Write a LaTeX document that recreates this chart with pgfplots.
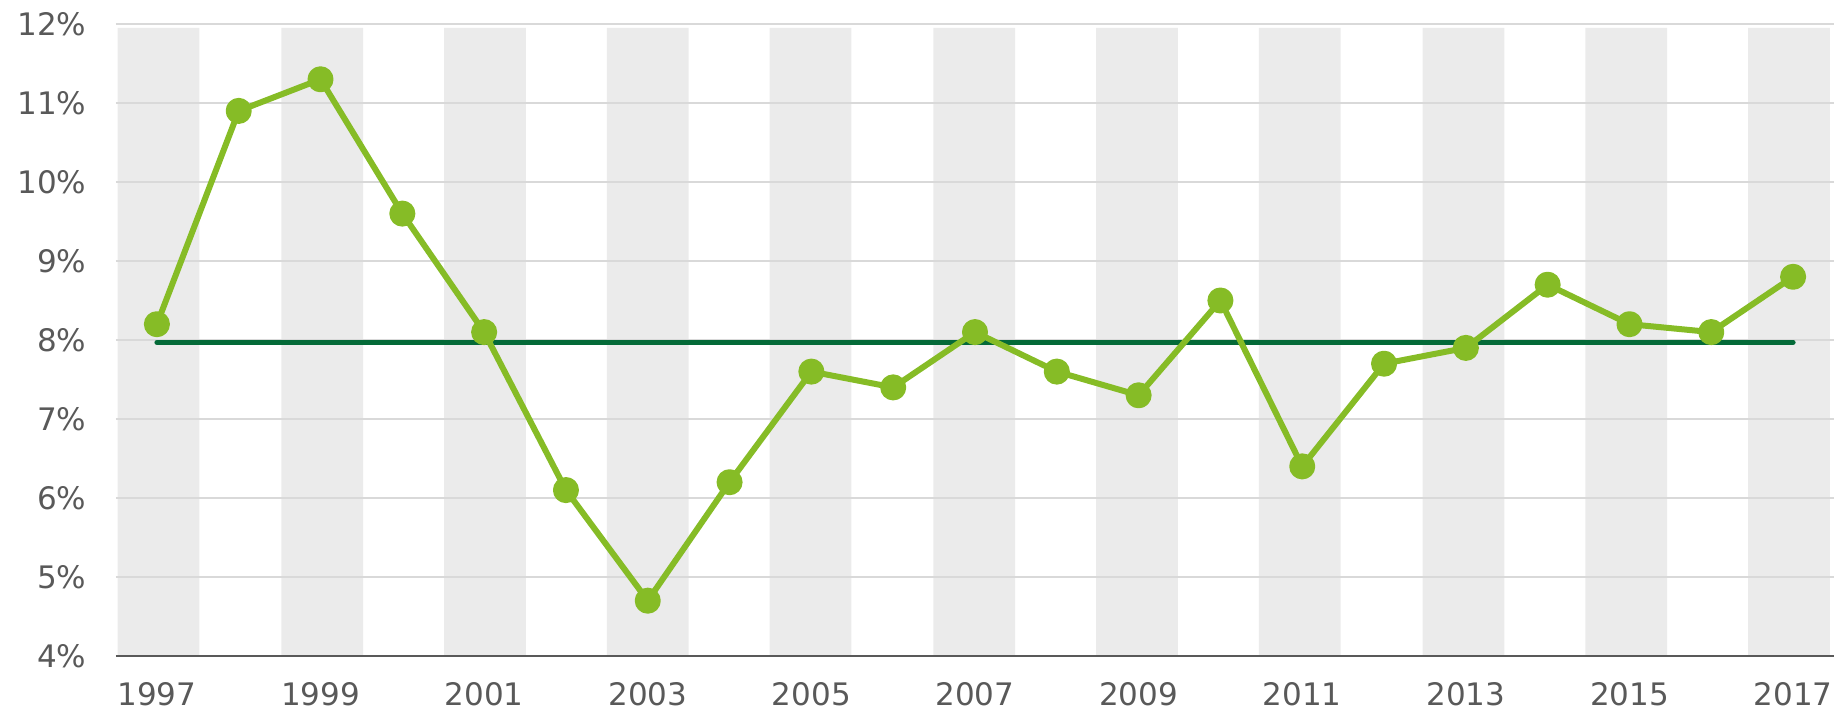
\documentclass[border=0pt]{standalone}
\usepackage{fontspec}
\setmainfont{DejaVu Sans}
\usepackage{pgfplots}
\pgfplotsset{compat=1.18}
\definecolor{lgreen}{RGB}{134,188,38}
\definecolor{dgreen}{RGB}{4,106,56}
\definecolor{bandgray}{RGB}{235,235,235}
\definecolor{gridgray}{RGB}{217,217,217}
\definecolor{txtgray}{RGB}{89,89,89}
\begin{document}
\begin{tikzpicture}
\begin{axis}[
  set layers,
  scale only axis, width=859pt, height=316pt,
  xmin=1996.5, xmax=2017.5, ymin=4, ymax=12,
  axis x line=bottom, axis y line=left,
  x axis line style={-, draw=txtgray, line width=0.8pt},
  y axis line style={draw=none},
  xtick={1997,1999,...,2017}, ytick={4,5,...,12},
  xticklabel style={/pgf/number format/1000 sep={}, yshift=-9.8pt},
  yticklabel={\pgfmathprintnumber{\tick}\%},
  yticklabel style={xshift=-11.3pt},
  major tick length=0pt,
  ymajorgrids, grid style={draw=gridgray, line width=1pt},
  tick label style={font=\fontsize{15.5}{18}\selectfont, text=txtgray},
  /pgf/number format/assume math mode=true,
]
\addplot[ybar, bar width=1, fill=bandgray, draw=none, on layer=axis background]
  coordinates {(1997.02,11.95) (1999.02,11.95) (2001.01,11.95) (2003.00,11.95) (2004.99,11.95) (2006.99,11.95)
               (2008.98,11.95) (2010.97,11.95) (2012.97,11.95) (2014.96,11.95) (2016.95,11.95)};
\addplot[dgreen, line width=2.5pt, line cap=round, mark=none]
  coordinates {(1997,7.97) (2017,7.97)};
\addplot[lgreen, line width=3pt, line join=round, mark=*, mark size=5pt,
  mark options={draw=none, fill=lgreen}]
  coordinates {
  (1997,8.2) (1998,10.9) (1999,11.3) (2000,9.6) (2001,8.1) (2002,6.1) (2003,4.7)
  (2004,6.2) (2005,7.6) (2006,7.4) (2007,8.1) (2008,7.6) (2009,7.3) (2010,8.5)
  (2011,6.4) (2012,7.7) (2013,7.9) (2014,8.7) (2015,8.2) (2016,8.1) (2017,8.8)};
\coordinate (SW) at (rel axis cs:0,0);
\coordinate (NE) at (rel axis cs:1,1);
\end{axis}
\pgfresetboundingbox
\path[use as bounding box] ([xshift=-58pt,yshift=-29.5pt]SW) rectangle ([xshift=1.5pt,yshift=12pt]NE);
\end{tikzpicture}
\end{document}
